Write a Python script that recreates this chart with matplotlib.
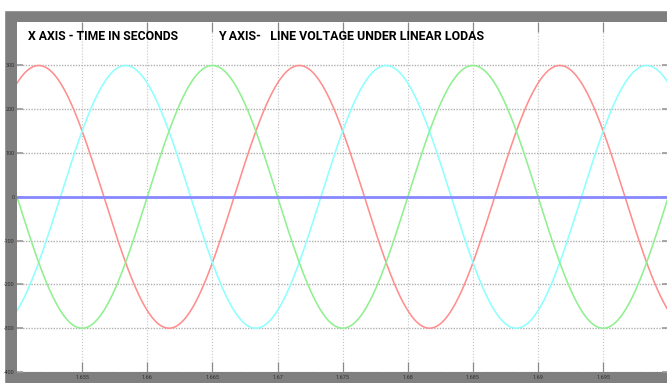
import numpy as np
import matplotlib.pyplot as plt
from matplotlib.patches import Rectangle

# three phase line voltages
amplitude = 300.0
freq_hz = 50.0
peak_times = [1.65167, 1.65833, 1.665]          # time of a positive peak for each phase
phase_colors = ["#ff8e8e", "#8effff", "#90f090"]
neutral_level = 0.0

xticks = [1.655, 1.66, 1.665, 1.67, 1.675, 1.68, 1.685, 1.69, 1.695]
xlabels = ["1.655", "1.66", "1.665", "1.67", "1.675", "1.68", "1.685", "1.69", "1.695"]
yticks = [-400, -300, -200, -100, 0, 100, 200, 300]
ylabels = ["-400", "-300", "-200", "-100", "0", "100", "200", "300"]

t = np.linspace(1.65, 1.70, 3000)

W, H = 667, 383
fig = plt.figure(figsize=(W / 100, H / 100), dpi=100)
fig.patch.set_facecolor("#7f7f7f")
# white margin above and left of the gray scope frame
fig.patches.append(Rectangle((0, (H - 10) / H), 1, 10 / H,
                             transform=fig.transFigure, color="white", zorder=-1))
fig.patches.append(Rectangle((0, 0), 4 / W, 1,
                             transform=fig.transFigure, color="white", zorder=-1))

ax = fig.add_axes([17 / W, 11 / H, (W - 17) / W + 0.002, (372 - 21.7) / H])
ax.set_facecolor("white")

for tp, c in zip(peak_times, phase_colors):
    v = amplitude * np.cos(2 * np.pi * freq_hz * (t - tp))
    ax.plot(t, v, color=c, lw=1.15)
ax.plot([1.65, 1.70], [neutral_level, neutral_level], color="#8888ff", lw=2.0)

ax.set_xlim(1.65, 1.70)
ax.set_ylim(-400, 400)
ax.set_xticks(xticks)
ax.set_xticklabels(xlabels)
ax.set_yticks(yticks)
ax.set_yticklabels(ylabels)
ax.xaxis.grid(True, linestyle=":", color="#c4c4c4", lw=0.8)
ax.yaxis.grid(True, linestyle=(0, (1, 1)), color="#b0b0b0", lw=1.0)
for s in ax.spines.values():
    s.set_visible(False)

lab_font = ["Roboto", "DejaVu Sans"]
ax.tick_params(axis="x", direction="in", length=7, width=0.9, color="#8a8a8a",
               top=True, labelsize=4, labelcolor="#303030", pad=2)
ax.tick_params(axis="y", direction="in", length=4.5, width=1.2, color="#9a9a9a",
               right=True, labelsize=4, labelcolor="#303030", pad=1.5)
for lb in ax.get_xticklabels() + ax.get_yticklabels():
    lb.set_family(lab_font)

ttl_font = ["Roboto", "DejaVu Sans"]
fig.text(28 / W, 1 - 36.5 / H, "X AXIS - TIME IN SECONDS", family=ttl_font,
         fontweight="bold", fontsize=8.8, va="center", ha="left", color="black")
fig.text(218 / W, 1 - 36.5 / H, "Y AXIS-   LINE VOLTAGE UNDER LINEAR LODAS", family=ttl_font,
         fontweight="bold", fontsize=8.9, va="center", ha="left", color="black")

plt.savefig("out.png", dpi=100, facecolor=fig.get_facecolor())
